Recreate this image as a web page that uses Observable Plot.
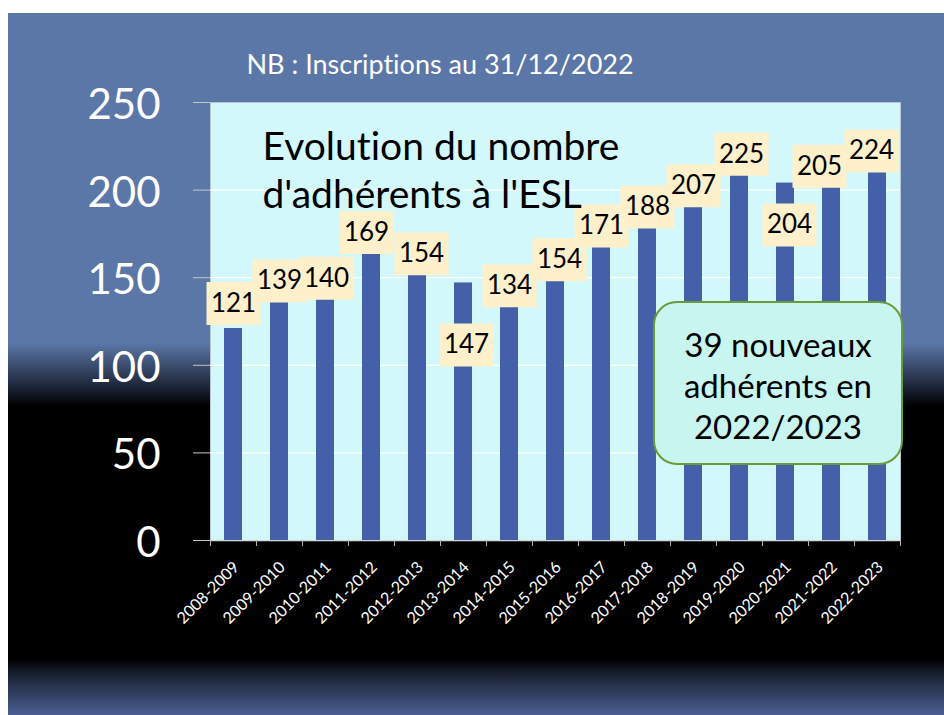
<!DOCTYPE html>
<html>
<head>
<meta charset="utf-8">
<script src="https://cdn.jsdelivr.net/npm/d3@7"></script>
<script src="https://cdn.jsdelivr.net/npm/@observablehq/plot@0.6"></script>
<style>
  html, body { margin: 0; padding: 0; background: #fff; }
  #wrap { position: relative; width: 944px; height: 715px; overflow: hidden; background: #fff;
          font-family: Lato, "Open Sans", sans-serif; font-variant-ligatures: none; }
  #bg { position: absolute; left: 8px; top: 13px; right: 0; bottom: 0;
        background: linear-gradient(to bottom, #5b77a8 0%, #5b77a8 47%, #1a2233 53.5%, #000 56%, #000 92%, #1c2436 94.5%, #4b5f93 100%); }
  #chart { position: absolute; left: 0; top: 0; }
  #chart svg, #chart svg text { font-variant-ligatures: none; }
  #callout { position: absolute; left: 653px; top: 301px; width: 250px; height: 164px; box-sizing: border-box;
             border: 2px solid #6b9a3a; border-radius: 24px; background: #c8f5ef;
             display: flex; flex-direction: column; justify-content: center; align-items: center;
             font-size: 33px; line-height: 41px; color: #000; text-align: center; padding-top: 4px; }
</style>
</head>
<body>
<div id="wrap">
  <div id="bg"></div>
  <div id="chart"></div>
  <div id="callout"><div>39 nouveaux</div><div>adhérents en</div><div>2022/2023</div></div>
</div>
<script>
// ---- data ----
const categories = ["2008-2009","2009-2010","2010-2011","2011-2012","2012-2013","2013-2014","2014-2015",
  "2015-2016","2016-2017","2017-2018","2018-2019","2019-2020","2020-2021","2021-2022","2022-2023"];
const members = [121, 139, 140, 169, 154, 147, 134, 154, 171, 188, 207, 225, 204, 205, 224];
const yTicks = [0, 50, 100, 150, 200, 250];
const titleText = "Evolution du nombre\nd'adhérents à l'ESL";
const subtitleText = "NB : Inscriptions au 31/12/2022";

// ---- label placement (pixel offsets from the bar top, as in the original) ----
const labelDx = [0, 0, 1, -5, 4, 3, 0, 4, 0, 0, 0, 2, 4, -12, -6];
const labelDy = [-25, -16, -17, -12, -17, 62, -20, -11, -15, -4, 8, 8, 42, -15, 3];

const rows = categories.map((c, i) => ({season: c, n: members[i], dx: labelDx[i], dy: labelDy[i]}));

const W = 944, H = 715, ML = 210, MR = 44, MT = 102, MB = 175;
const step = (W - ML - MR) / categories.length;
const labelBox = {draw(ctx) { ctx.rect(-27, -21.5, 54, 43); }};

const plot = Plot.plot({
  width: W, height: H,
  marginLeft: ML, marginRight: MR, marginTop: MT, marginBottom: MB,
  style: {background: "transparent", color: "white", fontFamily: "Lato, 'Open Sans', sans-serif", overflow: "visible"},
  x: {domain: categories, paddingInner: 0.6, paddingOuter: 0.3, label: null},
  y: {domain: [0, 250], label: null},
  marks: [
    Plot.frame({fill: "#d3f8fb", stroke: "#b9c6d2"}),
    Plot.ruleY(yTicks.filter(d => d > 0 && d < 250), {stroke: "white", strokeWidth: 1.3}),
    Plot.axisY({ticks: yTicks, tickSize: 17, tickFormat: () => "", stroke: "#c4c4c4", label: null}),
    Plot.axisY({ticks: yTicks, tickSize: 0, tickPadding: 50, fontSize: 42, dy: 3, fill: "white", label: null}),
    Plot.axisX({tickSize: 0, tickRotate: -45, tickPadding: 24, fontSize: 16, fill: "white", dx: 3, label: null}),
    Plot.ruleY([0], {stroke: "#d9d9d9", strokeWidth: 1.5}),
    Plot.ruleX(categories, {x: d => d, dx: -step / 2, y1: 0, y2: 0, insetBottom: -6, stroke: "#b0b0b0"}),
    Plot.ruleX(categories.slice(-1), {x: d => d, dx: step / 2, y1: 0, y2: 0, insetBottom: -6, stroke: "#b0b0b0"}),
    Plot.barY(rows, {x: "season", y: "n", fill: "#4460a9"}),
    ...rows.map(r => Plot.dot([r], {x: "season", y: "n", dx: r.dx, dy: r.dy, symbol: labelBox, fill: "#fff0cc", stroke: null})),
    ...rows.map(r => Plot.text([r], {x: "season", y: "n", text: d => String(d.n), dx: r.dx, dy: r.dy,
      fontSize: 26, fill: "black"})),
    Plot.text([titleText], {frameAnchor: "top-left", text: d => d, dx: 52, dy: 23, lineAnchor: "top",
      textAnchor: "start", fontSize: 39, lineHeight: 1.24, fill: "black"}),
    Plot.text([subtitleText], {frameAnchor: "top-left", text: d => d, dx: 36, dy: -48, lineAnchor: "top",
      textAnchor: "start", fontSize: 27, fill: "white"})
  ]
});
document.getElementById("chart").appendChild(plot);
</script>
</body>
</html>
